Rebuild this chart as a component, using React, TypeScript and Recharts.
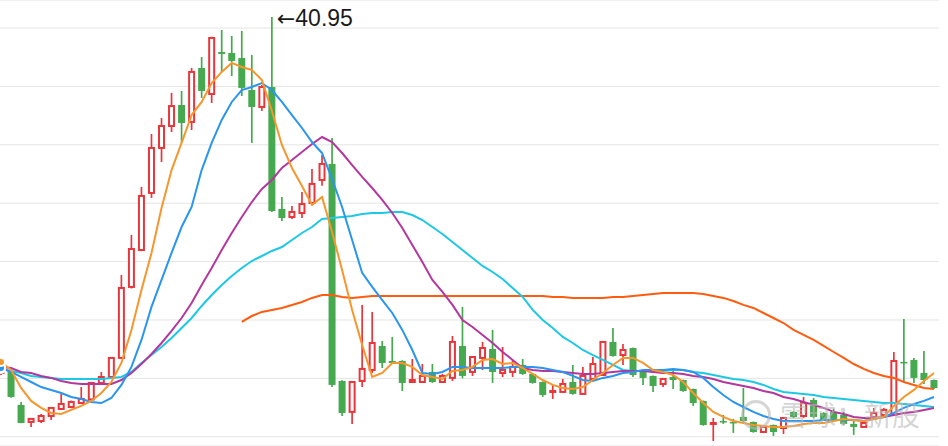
import { ComposedChart, Bar, Line, XAxis, YAxis, CartesianGrid } from "recharts";

// daily candles
const opens = [
  10.46, 10.55, 7.72, 6.27, 6.35, 6.78, 7.38, 7.55, 7.89, 8.2,
  9.61, 10.12, 11.75, 17.83, 20.99, 25.88, 29.73, 31.61, 33.41, 31.96,
  36.58, 34.35, 37.95, 37.86, 37.43, 34.69, 33.24, 34.95, 24.51, 23.82,
  24.16, 25.02, 26.99, 28.36, 9.78, 7.13, 9.78, 10.72, 12.78, 11.49,
  11.49, 9.69, 9.69, 10.55, 9.69, 10.04, 12.78, 10.55, 11.75, 12.52,
  10.46, 10.55, 11.15, 10.38, 9.69, 8.84, 8.84, 9.69, 8.67, 9.95,
  10.29, 13.12, 12.0, 12.6, 10.55, 10.21, 9.52, 10.12, 9.86, 9.09,
  8.07, 6.1, 6.35, 6.27, 6.7, 6.27, 5.41, 6.01, 5.75, 7.13,
  6.78, 8.15, 7.04, 7.13, 6.87, 6.1, 5.84, 6.7, 6.87, 6.87,
  11.41, 11.58, 10.46, 9.86,
];
const highs = [
  11.06, 10.6, 7.98, 6.58, 6.95, 7.55, 8.67, 8.1, 9.26, 9.7,
  10.55, 11.83, 18.85, 22.28, 26.39, 30.93, 32.3, 34.44, 34.61, 36.58,
  37.52, 39.25, 39.83, 39.32, 39.75, 37.69, 35.12, 40.95, 25.53, 24.76,
  25.96, 27.93, 29.13, 30.58, 9.85, 9.75, 16.29, 15.69, 13.2, 13.55,
  11.55, 11.66, 11.23, 11.23, 10.38, 13.63, 16.12, 11.9, 13.12, 14.15,
  12.69, 11.58, 11.66, 10.45, 9.75, 9.44, 9.95, 11.15, 10.98, 11.83,
  13.2, 14.32, 12.95, 12.65, 10.6, 10.25, 10.0, 10.81, 9.9, 9.12,
  8.1, 6.61, 6.87, 6.53, 9.18, 6.3, 5.9, 6.05, 6.65, 7.2,
  8.41, 8.32, 7.1, 7.4, 7.13, 6.44, 6.25, 7.47, 7.47, 12.26,
  15.09, 11.75, 12.35, 9.9,
];
const lows = [
  10.29, 8.35, 6.15, 5.84, 6.18, 6.44, 7.33, 7.45, 7.85, 8.15,
  9.55, 10.05, 11.7, 17.7, 20.9, 25.45, 28.53, 31.1, 30.16, 31.27,
  34.01, 33.58, 36.24, 35.89, 34.18, 30.16, 32.9, 24.25, 23.48, 23.65,
  23.73, 24.95, 26.5, 9.26, 6.78, 6.1, 9.26, 10.46, 10.89, 11.3,
  8.92, 9.61, 9.65, 9.61, 9.61, 9.78, 10.0, 10.21, 10.72, 9.61,
  10.12, 10.12, 10.3, 9.55, 8.41, 8.24, 8.8, 8.6, 8.6, 9.9,
  10.25, 11.85, 11.15, 10.12, 9.44, 8.84, 9.26, 9.09, 8.85, 7.64,
  5.95, 4.64, 6.1, 5.33, 6.18, 5.35, 5.35, 5.07, 5.24, 6.6,
  6.61, 6.6, 6.4, 6.5, 6.0, 5.16, 5.8, 6.65, 6.8, 6.8,
  9.69, 9.61, 9.52, 9.1,
];
const closes = [
  10.81, 8.41, 6.18, 6.53, 6.78, 7.47, 7.81, 7.98, 8.24, 9.61,
  10.12, 11.75, 17.74, 21.08, 25.62, 29.73, 31.61, 33.32, 31.87, 36.24,
  34.61, 39.15, 37.78, 37.18, 34.87, 33.24, 34.95, 24.33, 23.73, 24.25,
  24.93, 26.65, 28.36, 9.44, 7.04, 9.69, 10.81, 13.03, 11.32, 11.32,
  9.61, 9.86, 10.21, 9.69, 10.21, 13.12, 10.21, 11.83, 12.6, 10.55,
  10.72, 10.98, 10.38, 9.61, 8.58, 8.92, 9.52, 8.67, 10.21, 11.23,
  13.12, 11.92, 12.43, 10.29, 10.04, 9.35, 9.95, 9.86, 8.92, 7.89,
  6.01, 6.18, 6.27, 6.18, 6.35, 5.41, 5.84, 5.41, 6.61, 6.7,
  7.89, 6.7, 6.44, 6.53, 6.1, 5.84, 6.18, 7.04, 7.3, 11.49,
  11.32, 10.04, 9.86, 9.18,
];

// moving averages
const ma5 = [
  11.41, 10.72, 9.18, 8.07, 7.47, 7.04, 6.95, 7.3, 7.64, 8.07,
  8.75, 9.69, 11.32, 14.15, 17.57, 20.74, 24.59, 27.84, 30.16, 32.55,
  33.67, 35.29, 36.24, 37.01, 36.66, 36.41, 35.55, 32.9, 29.99, 28.02,
  26.47, 24.85, 25.53, 22.54, 19.28, 15.86, 12.86, 10.12, 10.46, 11.32,
  11.32, 10.98, 10.29, 10.12, 9.95, 10.63, 10.72, 10.98, 11.58, 11.66,
  11.23, 11.32, 10.89, 10.38, 9.86, 9.44, 9.18, 9.09, 9.26, 9.86,
  10.46, 11.15, 11.75, 11.75, 11.32, 10.72, 10.55, 10.29, 9.69, 8.75,
  7.89, 7.13, 6.7, 6.35, 6.18, 6.01, 5.93, 5.84, 5.84, 5.93,
  6.1, 6.18, 6.18, 6.35, 6.53, 6.44, 6.35, 6.53, 6.7, 7.64,
  8.41, 9.01, 9.78, 10.46,
];
const ma10 = [
  10.89, 10.55, 10.12, 9.69, 9.26, 9.01, 8.75, 8.41, 8.24, 7.98,
  7.89, 8.32, 9.44, 10.98, 13.29, 16.12, 18.43, 20.74, 22.96, 24.68,
  27.84, 30.16, 32.13, 33.67, 34.69, 34.95, 35.29, 34.69, 33.67, 32.55,
  31.44, 30.24, 29.3, 27.07, 24.68, 21.85, 19.03, 17.83, 16.71, 15.6,
  14.15, 12.43, 10.46, 10.38, 10.55, 10.98, 10.98, 10.89, 10.89, 10.89,
  10.89, 10.98, 10.98, 10.98, 10.89, 10.72, 10.55, 10.21, 9.86, 9.78,
  10.04, 10.21, 10.46, 10.55, 10.72, 10.72, 10.72, 10.81, 10.72, 10.55,
  10.04, 9.26, 8.58, 7.98, 7.55, 7.13, 6.78, 6.53, 6.35, 6.35,
  6.35, 6.35, 6.44, 6.44, 6.44, 6.44, 6.35, 6.53, 6.7, 7.04,
  7.47, 7.81, 8.07, 8.41,
];
const ma20 = [
  10.98, 10.89, 10.55, 10.46, 10.21, 10.04, 9.78, 9.61, 9.52, 9.52,
  9.52, 9.52, 9.86, 10.46, 11.23, 12.09, 13.03, 14.06, 15.17, 16.46,
  18.0, 19.45, 20.99, 22.45, 23.82, 25.1, 26.22, 26.99, 28.02, 28.7,
  29.39, 30.07, 30.67, 30.24, 29.3, 28.27, 27.25, 26.3, 25.28, 24.16,
  22.88, 21.42, 19.97, 18.43, 17.4, 16.29, 15.0, 14.4, 13.72, 13.03,
  12.26, 11.58, 10.89, 10.72, 10.63, 10.63, 10.55, 10.46, 10.38, 10.38,
  10.46, 10.55, 10.63, 10.63, 10.63, 10.55, 10.46, 10.46, 10.38, 10.21,
  10.12, 9.95, 9.69, 9.52, 9.35, 9.18, 8.92, 8.75, 8.41, 8.24,
  7.98, 7.72, 7.47, 7.13, 6.95, 6.7, 6.61, 6.61, 6.7, 6.87,
  7.04, 7.13, 7.3, 7.47,
];
const ma30 = [
  10.81, 10.63, 10.46, 10.21, 10.12, 10.04, 9.95, 9.95, 9.95, 9.95,
  9.95, 10.04, 10.12, 10.55, 11.32, 12.0, 12.69, 13.46, 14.32, 15.17,
  16.2, 17.14, 18.0, 18.77, 19.45, 20.05, 20.48, 20.91, 21.25, 21.85,
  22.45, 22.96, 23.65, 23.73, 23.82, 23.91, 24.08, 24.16, 24.16, 24.25,
  24.25, 23.99, 23.56, 22.96, 22.36, 21.68, 20.99, 20.31, 19.63, 19.11,
  18.51, 17.74, 16.97, 15.86, 15.0, 14.32, 13.55, 13.03, 12.43, 12.0,
  11.58, 11.15, 10.72, 10.63, 10.63, 10.63, 10.63, 10.72, 10.72, 10.55,
  10.46, 10.29, 10.12, 9.95, 9.86, 9.69, 9.44, 9.09, 8.84, 8.75,
  8.67, 8.58, 8.41, 8.32, 8.24, 8.15, 8.07, 7.98, 7.89, 7.89,
  7.81, 7.72, 7.64, 7.55,
];
const ma60 = [
  null, null, null, null, null, null, null, null, null, null,
  null, null, null, null, null, null, null, null, null, null,
  null, null, null, null, 14.83, 15.34, 15.69, 15.86, 16.03, 16.29,
  16.54, 16.89, 17.14, 17.14, 16.97, 16.89, 16.97, 17.06, 17.06, 17.06,
  17.06, 17.06, 17.06, 17.06, 17.06, 17.06, 17.06, 17.06, 17.06, 17.06,
  17.06, 17.06, 17.06, 17.06, 17.06, 16.97, 16.97, 16.89, 16.89, 16.89,
  16.89, 16.97, 16.97, 17.06, 17.14, 17.23, 17.31, 17.31, 17.31, 17.31,
  17.23, 17.06, 16.89, 16.63, 16.29, 16.03, 15.6, 15.17, 14.74, 14.15,
  13.72, 13.29, 12.78, 12.26, 11.75, 11.23, 10.81, 10.46, 10.21, 10.04,
  9.69, 9.44, 9.18, 9.09,
];

const gridTicks = [5, 10, 15, 20, 25, 30, 35, 40];

const data = opens.map((open, i) => ({
  i,
  open,
  high: highs[i],
  low: lows[i],
  close: closes[i],
  ma5: ma5[i],
  ma10: ma10[i],
  ma20: ma20[i],
  ma30: ma30[i],
  ma60: ma60[i],
}));

const maxHigh = Math.max(...highs);

const RED = "#e8373c";
const GREEN = "#46a94f";

function Candle(props: any) {
  const { x, y, width, height, payload } = props;
  const { open, close, high, low } = payload;
  const span = high - low;
  const toY = (v: number) => (span === 0 ? y : y + ((high - v) / span) * height);
  const cx = x + width / 2;
  const bw = 7;
  const top = toY(Math.max(open, close));
  const bottom = toY(Math.min(open, close));
  const yH = toY(high);
  const yL = toY(low);
  const up = close >= open;
  // max price marker
  const label =
    high === maxHigh ? (
      <text
        x={cx + 5}
        y={yH + 9}
        fontSize={23}
        fill="#1b1b1b"
        fontFamily="'Liberation Sans', Arial, sans-serif"
      >
        <tspan fontFamily="'DejaVu Sans', sans-serif" fontSize={22}>
          {"\u2190"}
        </tspan>
        <tspan>{high.toFixed(2)}</tspan>
      </text>
    ) : null;

  if (up) {
    return (
      <g>
        <line x1={cx} x2={cx} y1={yH} y2={top} stroke={RED} strokeWidth={1.7} />
        <line x1={cx} x2={cx} y1={bottom} y2={yL} stroke={RED} strokeWidth={1.7} />
        <rect
          x={cx - bw / 2 + 1}
          y={top}
          width={bw - 2}
          height={Math.max(bottom - top, 1)}
          fill="#fff"
          stroke={RED}
          strokeWidth={2}
        />
        {label}
      </g>
    );
  }
  return (
    <g>
      <line x1={cx} x2={cx} y1={yH} y2={yL} stroke={GREEN} strokeWidth={1.7} />
      <rect
        x={cx - bw / 2}
        y={top}
        width={bw}
        height={Math.max(bottom - top, 1.5)}
        fill={GREEN}
      />
      {label}
    </g>
  );
}

export default function App() {
  return (
    <div style={{ position: "absolute", left: 0, top: 0, width: 948, height: 446, background: "#fff" }}>
      <ComposedChart
        width={948}
        height={446}
        data={data}
        margin={{ top: 0, right: 9, bottom: 0, left: -4 }}
      >
        <CartesianGrid vertical={false} stroke="#e4e4e4" />
        <XAxis dataKey="i" hide />
        <YAxis
          hide
          type="number"
          domain={[4.21, 42.4]}
          ticks={gridTicks}
          allowDataOverflow
        />
        <Bar
          dataKey={(d: any) => [d.low, d.high]}
          shape={(p: any) => <Candle {...p} />}
          isAnimationActive={false}
        />
        <Line type="linear" dataKey="ma60" stroke="#ff5c10" strokeWidth={2} dot={false} isAnimationActive={false} />
        <Line type="linear" dataKey="ma30" stroke="#1cc8e4" strokeWidth={2} dot={false} isAnimationActive={false} />
        <Line type="linear" dataKey="ma20" stroke="#b4379d" strokeWidth={2} dot={false} isAnimationActive={false} />
        <Line type="linear" dataKey="ma10" stroke="#2a95f0" strokeWidth={2} dot={false} isAnimationActive={false} />
        <Line type="linear" dataKey="ma5" stroke="#f6962c" strokeWidth={2} dot={false} isAnimationActive={false} />
      </ComposedChart>
      <div
        style={{
          position: "absolute",
          left: 741,
          top: 400,
          width: 24,
          height: 24,
          borderRadius: "50%",
          border: "3px solid rgba(185,185,185,0.6)",
          pointerEvents: "none",
        }}
      />
      <div
        style={{
          position: "absolute",
          left: 780,
          top: 398,
          fontSize: 28,
          lineHeight: "32px",
          fontFamily: "'Noto Sans CJK SC', sans-serif",
          color: "rgba(185,185,185,0.6)",
          whiteSpace: "nowrap",
          pointerEvents: "none",
        }}
      >
        雪球：新股
      </div>
    </div>
  );
}
